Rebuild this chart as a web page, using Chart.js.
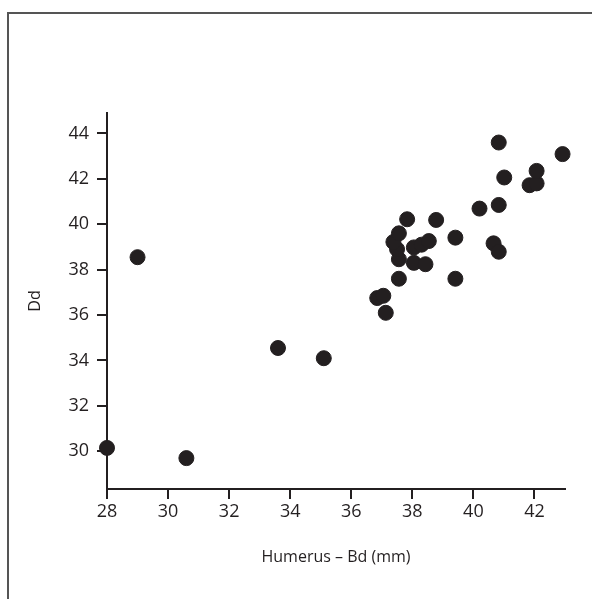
<!DOCTYPE html>
<html>
<head>
<meta charset="utf-8">
<script src="https://cdn.jsdelivr.net/npm/chart.js@4"></script>
<style>
  html, body { margin: 0; padding: 0; background: #fff; overflow: hidden; }
  #frame { position: absolute; left: 7px; top: 12px; width: 800px; height: 800px; border: 2px solid #555; }
  #wrap { position: absolute; left: 0; top: 0; width: 592px; height: 599px; }
</style>
</head>
<body>
<div id="frame"></div>
<div id="wrap"><canvas id="chart" width="592" height="599"></canvas></div>
<script>
const humerusBd = [28.0, 29.0, 30.6, 33.6, 35.1, 36.85, 37.05, 37.13, 37.56, 37.56, 37.5, 37.38, 37.56, 37.83, 38.78, 38.05,
                   38.43, 38.05, 38.3, 38.54, 39.41, 39.41, 40.2, 40.83, 40.66, 40.83, 41.01, 40.83, 41.84, 42.07, 42.07, 42.92];
const dd        = [30.15, 38.55, 29.7, 34.55, 34.1, 36.75, 36.85, 36.1, 37.6, 38.46, 38.9, 39.22, 39.6, 40.22, 40.19, 38.3,
                   38.24, 38.98, 39.1, 39.26, 39.41, 37.6, 40.69, 40.85, 39.16, 38.79, 42.06, 43.6, 41.72, 41.8, 42.35, 43.09];
const xTicks = [28, 30, 32, 34, 36, 38, 40, 42];
const yTicks = [30, 32, 34, 36, 38, 40, 42, 44];

const ink = '#231f20';
const tickFont = { family: '"Open Sans", sans-serif', size: 18 };
const titleFont = { family: '"Open Sans", sans-serif', size: 16 };

new Chart(document.getElementById('chart'), {
  type: 'scatter',
  data: {
    datasets: [{
      data: humerusBd.map((x, i) => ({ x, y: dd[i] })),
      backgroundColor: ink,
      borderColor: ink,
      pointRadius: 7.5,
      pointHoverRadius: 7.5,
      clip: false,
    }]
  },
  options: {
    responsive: false,
    animation: false,
    layout: { padding: { left: 20, top: 113, right: 27, bottom: 32 } },
    plugins: { legend: { display: false }, tooltip: { enabled: false } },
    scales: {
      x: {
        type: 'linear', min: 28, max: 43,
        afterBuildTicks: s => { s.ticks = xTicks.map(v => ({ value: v })); },
        afterFit: s => { s.height = 78; },
        grid: { drawOnChartArea: false, drawTicks: true, tickLength: 10, color: ink, lineWidth: 2 },
        border: { display: true, color: ink, width: 2 },
        ticks: { color: ink, font: tickFont, padding: 2, maxRotation: 0 },
        title: { display: true, text: 'Humerus – Bd (mm)', color: ink, font: titleFont, padding: 0 }
      },
      y: {
        type: 'linear', min: 28.34, max: 44.9,
        afterBuildTicks: s => { s.ticks = yTicks.map(v => ({ value: v })); },
        afterFit: s => { s.width = 87; },
        grid: { drawOnChartArea: false, drawTicks: true, tickLength: 10, color: ink, lineWidth: 2 },
        border: { display: true, color: ink, width: 2 },
        ticks: { color: ink, font: tickFont, padding: 8 },
        title: { display: true, text: 'Dd', color: ink, font: titleFont, padding: { top: 6, bottom: 0 } }
      }
    }
  }
});
</script>
</body>
</html>
